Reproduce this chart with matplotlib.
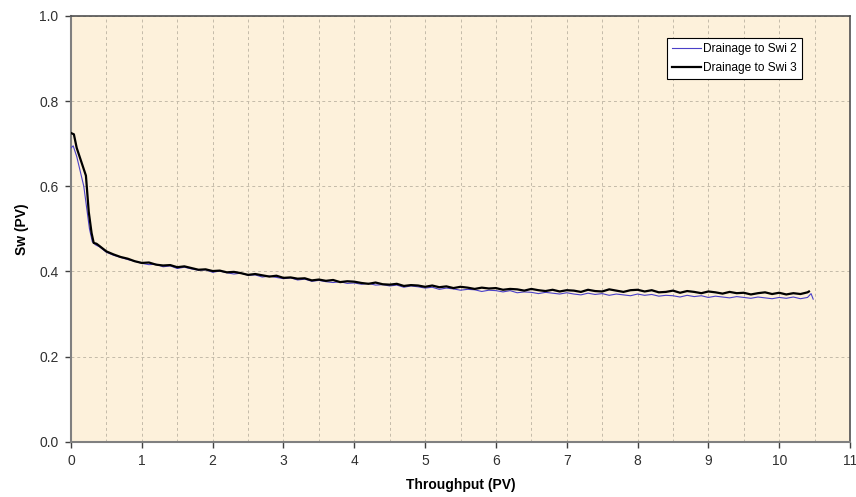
import matplotlib.pyplot as plt
from matplotlib.ticker import MultipleLocator

plt.rcParams["font.family"] = ["Liberation Sans", "DejaVu Sans"]

# Drainage to Swi 2 (blue, thin)
x_swi2 = [0.0, 0.03, 0.08, 0.13, 0.18, 0.22, 0.26, 0.30, 0.35, 0.4, 0.5, 0.6, 0.7, 0.8, 0.9,
          1.0, 1.1, 1.2, 1.3, 1.4, 1.5, 1.6, 1.7, 1.8, 1.9,
          2.0, 2.1, 2.2, 2.3, 2.4, 2.5, 2.6, 2.7, 2.8, 2.9,
          3.0, 3.1, 3.2, 3.3, 3.4, 3.5, 3.6, 3.7, 3.8, 3.9,
          4.0, 4.1, 4.2, 4.3, 4.4, 4.5, 4.6, 4.7, 4.8, 4.9,
          5.0, 5.1, 5.2, 5.3, 5.4, 5.5, 5.6, 5.7, 5.8, 5.9,
          6.0, 6.1, 6.2, 6.3, 6.4, 6.5, 6.6, 6.7, 6.8, 6.9,
          7.0, 7.1, 7.2, 7.3, 7.4, 7.5, 7.6, 7.7, 7.8, 7.9,
          8.0, 8.1, 8.2, 8.3, 8.4, 8.5, 8.6, 8.7, 8.8, 8.9,
          9.0, 9.1, 9.2, 9.3, 9.4, 9.5, 9.6, 9.7, 9.8, 9.9,
          10.0, 10.1, 10.2, 10.3, 10.4, 10.45, 10.48]
sw_swi2 = [0.690, 0.695, 0.670, 0.635, 0.600, 0.550, 0.500, 0.470, 0.462, 0.458, 0.445, 0.438, 0.433, 0.428, 0.424,
           0.419, 0.416, 0.417, 0.411, 0.413, 0.407, 0.410, 0.406, 0.403, 0.404,
           0.398, 0.401, 0.397, 0.394, 0.396, 0.391, 0.392, 0.387, 0.389, 0.386,
           0.383, 0.385, 0.380, 0.382, 0.377, 0.379, 0.376, 0.374, 0.376, 0.372,
           0.373, 0.370, 0.372, 0.368, 0.369, 0.366, 0.368, 0.363, 0.366, 0.364,
           0.361, 0.363, 0.358, 0.361, 0.359, 0.356, 0.358, 0.357, 0.353, 0.356,
           0.355, 0.352, 0.355, 0.350, 0.352, 0.351, 0.348, 0.351, 0.349, 0.347,
           0.350, 0.347, 0.345, 0.349, 0.346, 0.348, 0.344, 0.347, 0.345, 0.343,
           0.347, 0.344, 0.346, 0.342, 0.344, 0.343, 0.340, 0.344, 0.341, 0.343,
           0.339, 0.342, 0.340, 0.338, 0.341, 0.339, 0.337, 0.340, 0.338, 0.336,
           0.339, 0.337, 0.340, 0.336, 0.339, 0.348, 0.335]

# Drainage to Swi 3 (black, thick)
x_swi3 = [0.0, 0.04, 0.08, 0.14, 0.21, 0.25, 0.29, 0.32, 0.36, 0.4, 0.5, 0.6, 0.7, 0.8, 0.9,
          1.0, 1.1, 1.2, 1.3, 1.4, 1.5, 1.6, 1.7, 1.8, 1.9,
          2.0, 2.1, 2.2, 2.3, 2.4, 2.5, 2.6, 2.7, 2.8, 2.9,
          3.0, 3.1, 3.2, 3.3, 3.4, 3.5, 3.6, 3.7, 3.8, 3.9,
          4.0, 4.1, 4.2, 4.3, 4.4, 4.5, 4.6, 4.7, 4.8, 4.9,
          5.0, 5.1, 5.2, 5.3, 5.4, 5.5, 5.6, 5.7, 5.8, 5.9,
          6.0, 6.1, 6.2, 6.3, 6.4, 6.5, 6.6, 6.7, 6.8, 6.9,
          7.0, 7.1, 7.2, 7.3, 7.4, 7.5, 7.6, 7.7, 7.8, 7.9,
          8.0, 8.1, 8.2, 8.3, 8.4, 8.5, 8.6, 8.7, 8.8, 8.9,
          9.0, 9.1, 9.2, 9.3, 9.4, 9.5, 9.6, 9.7, 9.8, 9.9,
          10.0, 10.1, 10.2, 10.3, 10.4, 10.42]
sw_swi3 = [0.725, 0.722, 0.690, 0.660, 0.625, 0.540, 0.490, 0.467, 0.465, 0.460, 0.447, 0.440, 0.434, 0.430, 0.424,
           0.420, 0.421, 0.416, 0.414, 0.415, 0.410, 0.412, 0.408, 0.404, 0.405,
           0.401, 0.402, 0.398, 0.399, 0.396, 0.392, 0.394, 0.391, 0.388, 0.390,
           0.385, 0.386, 0.383, 0.384, 0.379, 0.381, 0.378, 0.380, 0.375, 0.377,
           0.376, 0.373, 0.371, 0.374, 0.370, 0.369, 0.371, 0.366, 0.368, 0.367,
           0.364, 0.367, 0.363, 0.365, 0.361, 0.364, 0.362, 0.359, 0.362, 0.360,
           0.361, 0.357, 0.359, 0.358, 0.355, 0.359, 0.356, 0.354, 0.357, 0.353,
           0.356, 0.355, 0.352, 0.357, 0.354, 0.353, 0.358, 0.355, 0.352, 0.356,
           0.357, 0.353, 0.356, 0.351, 0.352, 0.355, 0.350, 0.354, 0.352, 0.349,
           0.353, 0.351, 0.348, 0.352, 0.349, 0.350, 0.346, 0.349, 0.351, 0.347,
           0.350, 0.346, 0.349, 0.347, 0.351, 0.353]

fig = plt.figure(figsize=(8.56, 4.97), dpi=100)
ax = fig.add_axes([0.083, 0.111, 0.910, 0.857])
ax.set_facecolor("#fdf1db")

ax.plot(x_swi2, sw_swi2, color="#4a40c8", linewidth=0.8, label="Drainage to Swi 2", zorder=3)
ax.plot(x_swi3, sw_swi3, color="black", linewidth=1.6, label="Drainage to Swi 3", zorder=4)

ax.set_xlim(0, 11)
ax.set_ylim(0, 1.0)
ax.xaxis.set_major_locator(MultipleLocator(1))
ax.xaxis.set_minor_locator(MultipleLocator(0.5))
ax.yaxis.set_major_locator(MultipleLocator(0.2))
ax.yaxis.set_major_formatter(plt.FormatStrFormatter("%.1f"))

ax.grid(True, which="major", axis="y", linestyle=(0, (3, 3)), color="#c4bba9", linewidth=0.7)
ax.grid(True, which="both", axis="x", linestyle=(0, (3, 3)), color="#c4bba9", linewidth=0.7)
ax.set_axisbelow(True)

ax.tick_params(axis="both", which="major", direction="out", length=4, width=1,
               color="#404040", labelsize=10, labelcolor="#303030", pad=5)
ax.tick_params(axis="x", which="minor", length=0)

for side in ["left", "bottom"]:
    ax.spines[side].set_color("#808080")
    ax.spines[side].set_linewidth(1.5)
for side in ["top", "right"]:
    ax.spines[side].set_color("#505050")
    ax.spines[side].set_linewidth(1.2)

ax.set_xlabel("Throughput (PV)", fontsize=10, fontweight="bold", labelpad=7)
ax.set_ylabel("Sw (PV)", fontsize=10, fontweight="bold", labelpad=7)

leg = ax.legend(loc="upper right", bbox_to_anchor=(0.939, 0.948), fontsize=8.6,
                fancybox=False, framealpha=1, edgecolor="black", borderpad=0.45,
                handlelength=2.4, handletextpad=0.2, labelspacing=0.55, borderaxespad=0)
leg.get_frame().set_linewidth(0.8)

fig.savefig("out.png", dpi=100)
